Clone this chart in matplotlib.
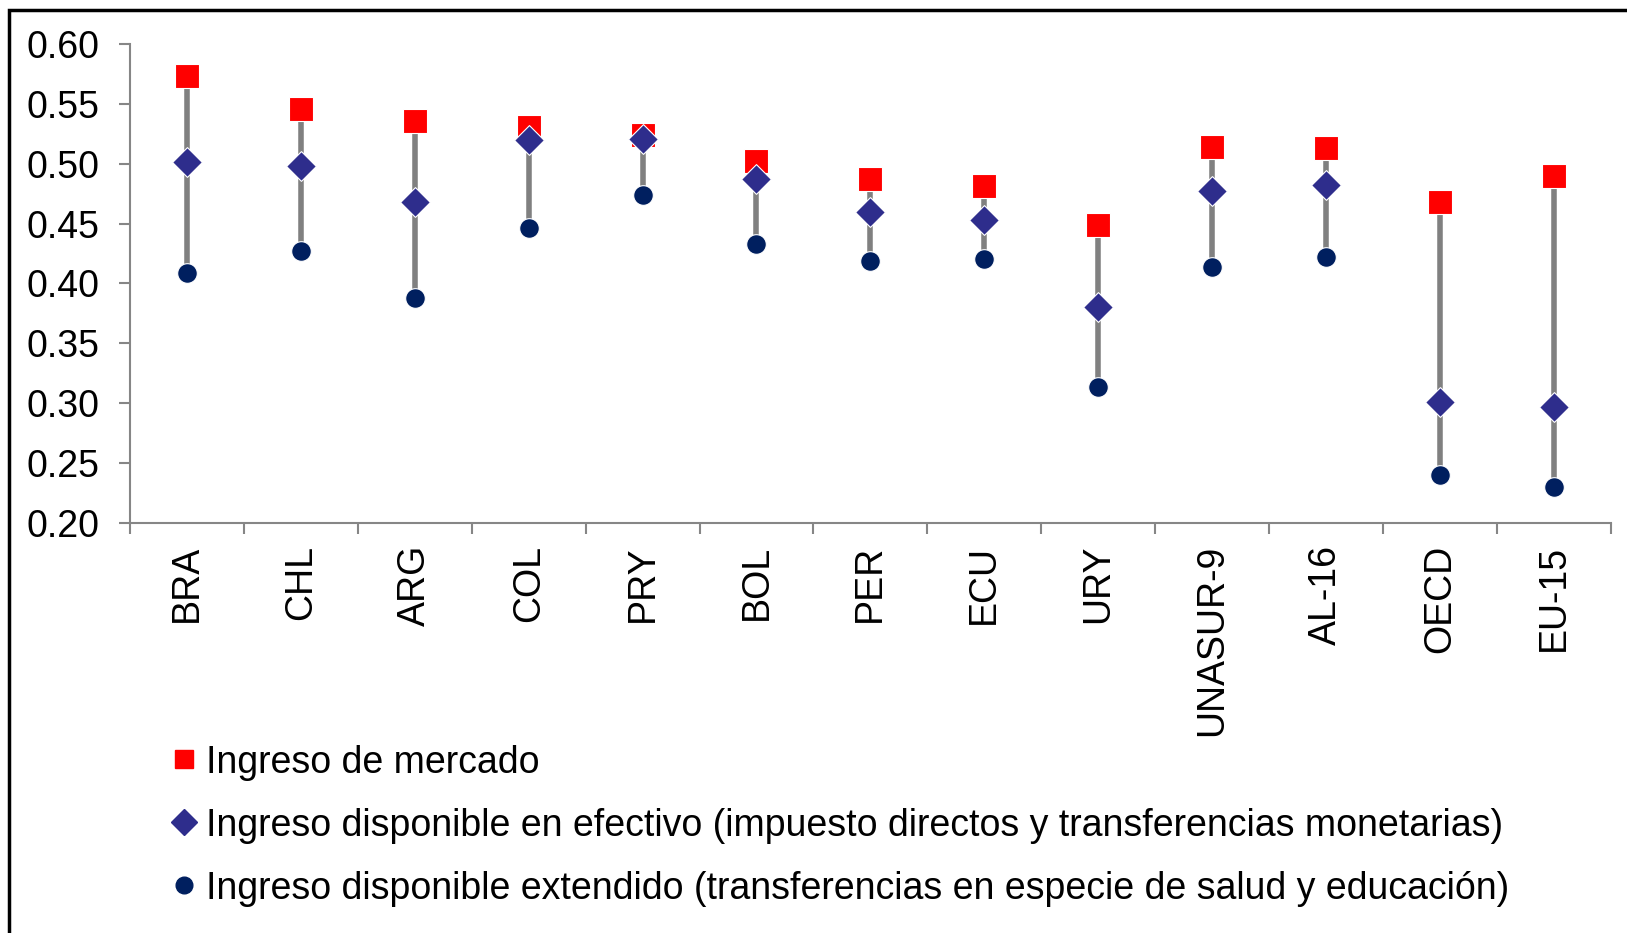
import matplotlib
matplotlib.use("Agg")
import matplotlib.pyplot as plt
from matplotlib.lines import Line2D
from matplotlib.patches import Rectangle
import numpy as np

plt.rcParams['font.family'] = ['Liberation Sans', 'DejaVu Sans']

paises = ['BRA', 'CHL', 'ARG', 'COL', 'PRY', 'BOL', 'PER', 'ECU', 'URY',
          'UNASUR-9', 'AL-16', 'OECD', 'EU-15']
mercado = [0.573, 0.546, 0.536, 0.531, 0.524, 0.502, 0.487, 0.481, 0.449,
           0.514, 0.513, 0.468, 0.490]
efectivo = [0.501, 0.498, 0.468, 0.520, 0.521, 0.487, 0.460, 0.453, 0.380,
            0.477, 0.482, 0.301, 0.297]
extendido = [0.409, 0.427, 0.388, 0.446, 0.474, 0.433, 0.419, 0.420, 0.313,
             0.414, 0.422, 0.240, 0.230]

etiquetas = ['Ingreso de mercado',
             'Ingreso disponible en efectivo (impuesto directos y transferencias monetarias)',
             'Ingreso disponible extendido (transferencias en especie de salud y educación)']

c_rojo = '#ff0000'
c_diam = '#2e2d8c'
c_circ = '#001f5f'
c_gris = '#808080'

fig = plt.figure(figsize=(16.27, 9.33), dpi=100)
ax = fig.add_axes([0.0799, 0.4398, 0.9101, 0.513])

x = np.arange(len(paises))
# lineas max-min
ax.vlines(x, extendido, mercado, color=c_gris, lw=4, zorder=1)
ax.scatter(x, mercado, marker='s', s=300, color=c_rojo, edgecolors='white', linewidths=0.8, zorder=3)
ax.scatter(x, efectivo, marker='D', s=230, color=c_diam, edgecolors='white', linewidths=0.8, zorder=3)
ax.scatter(x, extendido, marker='o', s=200, color=c_circ, edgecolors='white', linewidths=0.8, zorder=3)

ax.set_xlim(-0.5, len(paises) - 0.5)
ax.set_ylim(0.2, 0.6)
ax.set_yticks(np.arange(0.20, 0.601, 0.05))
ax.set_yticklabels([f'{v:.2f}' for v in np.arange(0.20, 0.601, 0.05)])
ax.set_xticks(x)
ax.set_xticklabels(paises, rotation=90)
ax.set_xticks(np.arange(-0.5, len(paises)), minor=True)

for s in ['top', 'right']:
    ax.spines[s].set_visible(False)
for s in ['left', 'bottom']:
    ax.spines[s].set_color('#868686')
    ax.spines[s].set_linewidth(1.5)

ax.tick_params(axis='y', direction='out', length=8, width=1.5, color='#868686',
               labelsize=27, pad=14)
ax.tick_params(axis='x', which='major', length=0, labelsize=27, pad=16)
ax.tick_params(axis='x', which='minor', direction='out', length=8, width=1.5, color='#868686')

handles = [
    Line2D([], [], ls='none', marker='s', ms=13, color=c_rojo),
    Line2D([], [], ls='none', marker='D', ms=13, color=c_diam),
    Line2D([], [], ls='none', marker='o', ms=12, color=c_circ),
]
fig.legend(handles, etiquetas, loc='upper left', bbox_to_anchor=(0.106, 0.202),
           frameon=False, fontsize=27, handlelength=0.6, handletextpad=0.3,
           labelspacing=0.72, borderaxespad=0, borderpad=0)

# marco exterior
fig.patches.append(Rectangle((9 / 1627, -0.1), 1.2, 1 - 10 / 933 + 0.1,
                             transform=fig.transFigure, fill=False,
                             edgecolor='black', lw=2.5))

plt.savefig('out.png', dpi=100)
